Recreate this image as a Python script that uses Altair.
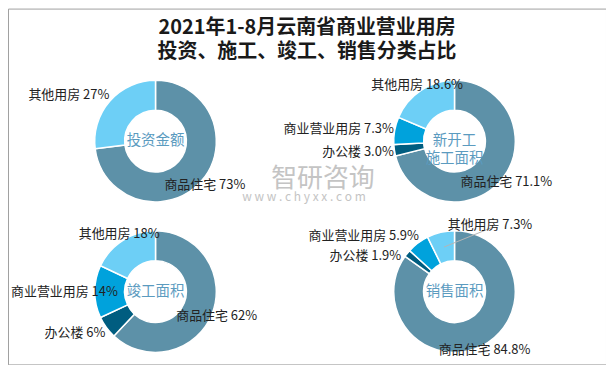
import altair as alt
import pandas as pd

# ---- data ----
pies = ["投资金额", "新开工施工面积", "竣工面积", "销售面积"]
center_labels = ["投资金额", "新开工\n施工面积", "竣工面积", "销售面积"]
categories = ["商品住宅", "办公楼", "商业营业用房", "其他用房"]
colors = ["#5d91a8", "#005d80", "#00a2dc", "#6dcff6"]

invest_share = [73, None, None, 27]
new_start_share = [71.1, 3.0, 7.3, 18.6]
completed_share = [62, 6, 14, 18]
sales_share = [84.8, 1.9, 5.9, 7.3]
decimals = [0, 1, 0, 1]

shares = [invest_share, new_start_share, completed_share, sales_share]

FONT = "Noto Sans CJK SC"
CX = [148, 448]   # pie centre columns (chart pixels)
CY = [133, 284]   # pie centre rows (chart pixels)
UX = CX[1] - CX[0]
UY = CY[1] - CY[0]

rows = []
for i, (pie, vals) in enumerate(zip(pies, shares)):
    for j, (cat, v) in enumerate(zip(categories, vals)):
        if v is None:
            continue
        rows.append({
            "pie": pie, "cat": cat, "value": v, "order": j,
            "col": i % 2, "row": i // 2,
            "label": f"{cat} {v:.{decimals[i]}f}%",
        })
df = pd.DataFrame(rows)

centers = pd.DataFrame({
    "pie": pies,
    "center": center_labels,
    "col": [i % 2 for i in range(len(pies))],
    "row": [i // 2 for i in range(len(pies))],
})

xs = alt.Scale(domain=[0, 1], range=CX)
ys = alt.Scale(domain=[0, 1], range=CY)
x_enc = alt.X("col:Q", scale=xs, axis=None)
y_enc = alt.Y("row:Q", scale=ys, axis=None)

base = (
    alt.Chart(df)
    .transform_joinaggregate(total="sum(value)", groupby=["pie"])
    .transform_window(cum="sum(value)", sort=[alt.SortField("order")],
                      groupby=["pie"], frame=[None, 0])
    .transform_calculate(
        t1="2*PI*datum.cum/datum.total",
        t0="2*PI*(datum.cum-datum.value)/datum.total",
        tm="PI*(2*datum.cum-datum.value)/datum.total",
    )
    .transform_calculate(
        deg="datum.tm*180/PI",
    )
    .transform_calculate(
        grp="datum.tm < PI ? 'R' : (datum.deg < 325 ? 'L' : (datum.deg < 335 ? 'C' : 'T'))",
        w="13*length(datum.cat) + 7.3*(length(datum.label)-length(datum.cat))",
        cx=f"{CX[0]} + {UX}*datum.col",
    )
)

arcs = base.mark_arc(innerRadius=31, outerRadius=61, stroke="white", strokeWidth=1.5).encode(
    x=x_enc, y=y_enc,
    theta=alt.Theta("t0:Q", scale=None),
    theta2="t1:Q",
    color=alt.Color("cat:N", scale=alt.Scale(domain=categories, range=colors), legend=None),
)

lx_enc = alt.X("lx:Q", scale=xs, axis=None)
ly_enc = alt.Y("ly:Q", scale=ys, axis=None)
txt_style = dict(baseline="middle", fontSize=13, font=FONT, color="#222222")

to_xy = dict(
    lx=f"datum.col + datum.ox/{UX}",
    ly=f"datum.row + datum.oy/{UY}",
)

# right half: centred on the mid-angle
labels_center = (
    base.transform_filter("datum.grp=='R' || datum.grp=='C'")
    .transform_calculate(
        ox="(datum.grp=='R' ? 66 : 68)*sin(datum.tm)",
        oy="-(datum.grp=='R' ? 66 : 68)*cos(datum.tm)",
    )
    .transform_calculate(**to_xy)
    .mark_text(align="center", **txt_style)
    .encode(x=lx_enc, y=ly_enc, text="label:N")
)

# left half: right-aligned, kept clear of the ring and of each other
labels_right = (
    base.transform_filter("datum.grp=='L'")
    .transform_calculate(oy0="-70*cos(datum.tm)")
    .transform_window(prev="lag(oy0)", groupby=["pie"], sort=[alt.SortField("oy0")])
    .transform_calculate(oy="datum.prev == null ? datum.oy0 : max(datum.oy0, datum.prev + 20)")
    .transform_calculate(yc="datum.oy > 0 ? max(0, datum.oy-7) : min(0, datum.oy+7)")
    .transform_calculate(
        ox="max(-sqrt(max(0, 60*60 - datum.yc*datum.yc)) - 1, datum.w - datum.cx + 3)"
    )
    .transform_calculate(**to_xy)
    .mark_text(align="right", **txt_style)
    .encode(x=lx_enc, y=ly_enc, text="label:N")
)

# near the top: flows to the right with a leader line
top_base = base.transform_filter("datum.grp=='T'").transform_calculate(
    ox="30*sin(datum.tm)", oy="-69*cos(datum.tm)",
    px=f"datum.col + 46*sin(datum.tm)/{UX}",
    py=f"datum.row - 46*cos(datum.tm)/{UY}",
).transform_calculate(
    **to_xy,
    ex=f"datum.col + (datum.ox + 44)/{UX}",
    ey=f"datum.row + (datum.oy + 3)/{UY}",
)
leader = top_base.mark_rule(color="#b5b5b5", strokeWidth=1).encode(
    x=alt.X("px:Q", scale=xs, axis=None), y=alt.Y("py:Q", scale=ys, axis=None),
    x2="ex:Q", y2="ey:Q",
)
labels_left = top_base.mark_text(align="left", **txt_style).encode(
    x=lx_enc, y=ly_enc, text="label:N")

center_text = alt.Chart(centers).mark_text(
    align="center", baseline="middle", lineBreak="\n", lineHeight=18,
    fontSize=14.5, font=FONT, color="#5b9bbf"
).encode(x=x_enc, y=y_enc, text="center:N")

wm = pd.DataFrame({"t": ["智研咨询"], "u": ["w w w . c h y x x . c o m"]})
watermark1 = alt.Chart(wm).mark_text(
    fontSize=26, font=FONT, color="#c4c4c4", align="center", baseline="middle"
).encode(x=alt.value(316), y=alt.value(171), text="t:N")
watermark2 = alt.Chart(wm).mark_text(
    fontSize=12, font=FONT, color="#c4c4c4", align="center", baseline="middle"
).encode(x=alt.value(297), y=alt.value(189), text="u:N")

chart = (
    alt.layer(watermark1, watermark2, arcs, leader,
              labels_center, labels_right, labels_left, center_text)
    .properties(
        width=600, height=357, padding=0,
        autosize=alt.AutoSizeParams(type="none"),
        title=alt.Title(
            ["2021年1-8月云南省商业营业用房", "投资、施工、竣工、销售分类占比"],
            fontSize=20, font=FONT, fontWeight="bold", color="#1a1a1a",
            anchor="middle", offset=-54, lineHeight=25,
        ),
    )
    .configure_view(stroke="#a0a0a0", strokeWidth=1)
)

chart.save("out.html", embed_options={"renderer": "svg", "actions": False})
